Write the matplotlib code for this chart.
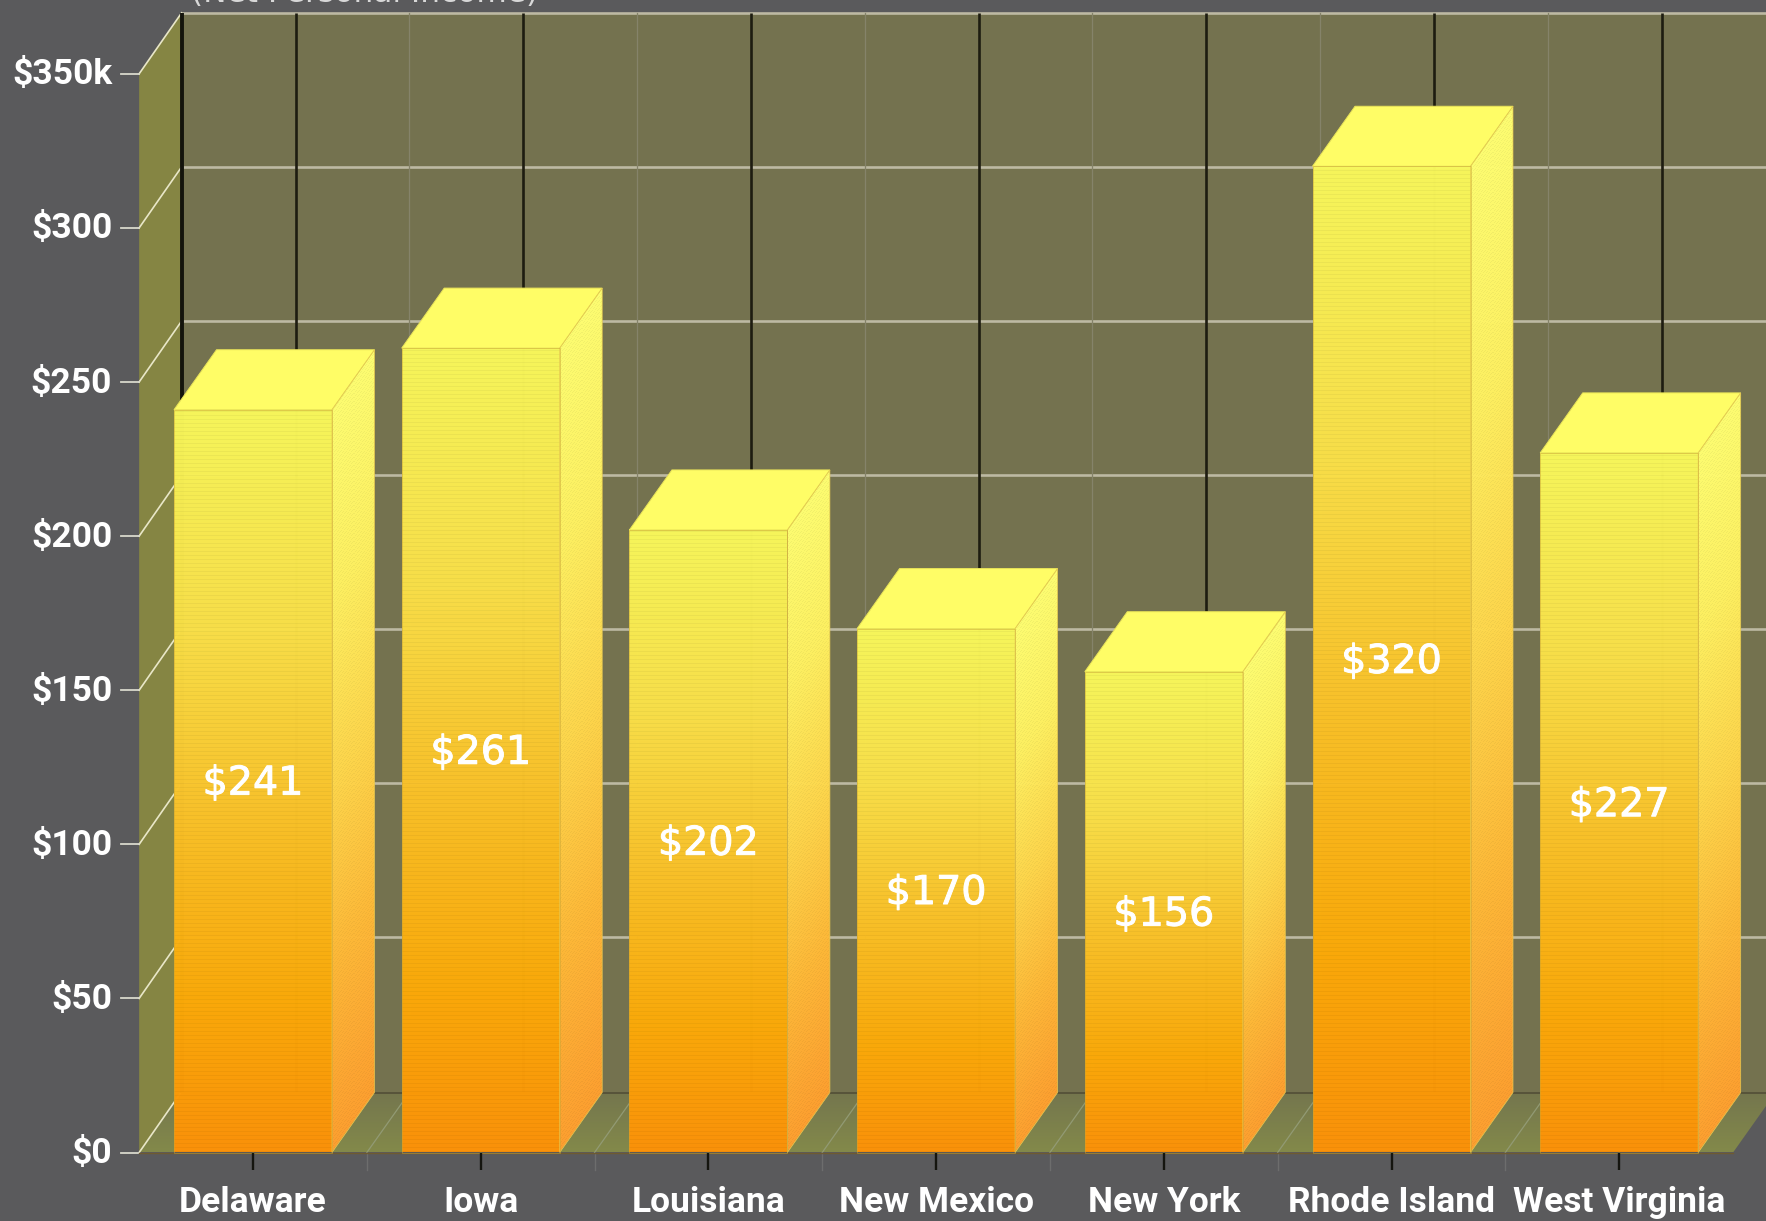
import numpy as np
import matplotlib
matplotlib.use("Agg")
import matplotlib.pyplot as plt
import matplotlib.patheffects as pe
from matplotlib.colors import LinearSegmentedColormap
from matplotlib.patches import Polygon

# Net personal income by state
states = ["Delaware", "Iowa", "Louisiana", "New Mexico", "New York", "Rhode Island", "West Virginia"]
income = [241, 261, 202, 170, 156, 320, 227]
y_ticks = [0, 50, 100, 150, 200, 250, 300, 350]
y_tick_labels = ["$0", "$50", "$100", "$150", "$200", "$250", "$300", "$350k"]
chart_title = "(Net Personal Income)"

W, H = 1766, 1221
PX_X = 227.7      # pixels per category
PX_Y = 3.082      # pixels per income unit
ORIGIN_X, ORIGIN_Y = 253.0, 1152.5
DX = 42.5 / PX_X  # extrusion of the 3D box, in data units
DY = 60.0 / PX_Y
GRID_DY = 61.0 / PX_Y
HALF = 79.0 / PX_X
ALPHA = 0.985

BG = "#5a5a5c"
WALL = "#74724f"
SIDE_WALL = "#858543"
GRID = "#bdb9a3"
DIAG = "#e9e7c8"
LABEL_FONT = ["Liberation Sans Narrow", "Roboto", "DejaVu Sans"]

front_cmap = LinearSegmentedColormap.from_list("front", [
    (0.0, "#fd9208"), (0.2, "#fcaa08"), (0.47, "#fac42c"), (0.7, "#fae048"), (1.0, "#f8f85c")])
side_cmap = LinearSegmentedColormap.from_list("side", [
    (0.0, "#ffa030"), (0.25, "#ffba38"), (0.5, "#ffd84c"), (0.75, "#fff262"), (1.0, "#ffff72")])
floor_cmap = LinearSegmentedColormap.from_list("floor", ["#83894a", "#74764e"])

fig = plt.figure(figsize=(W / 100, H / 100), dpi=100, facecolor=BG)
ax = fig.add_axes([0, 0, 1, 1])
ax.set_axis_off()
xlim = (-ORIGIN_X / PX_X, (W - ORIGIN_X) / PX_X)
ylim = (-(H - ORIGIN_Y) / PX_Y, ORIGIN_Y / PX_Y)

n = len(states)
left, right = -0.5, n - 0.5
top = y_ticks[-1]

# Back wall, side wall and floor
ax.add_patch(Polygon([(left + DX, DY), (xlim[1] + 1, DY), (xlim[1] + 1, top + GRID_DY), (left + DX, top + GRID_DY)],
                     fc=WALL, ec="none", zorder=1))
ax.add_patch(Polygon([(left, 0), (left + DX, DY), (left + DX, top + GRID_DY), (left, top)],
                     fc=SIDE_WALL, ec="none", zorder=1))
floor_poly = Polygon([(left, 0), (right, 0), (right + DX, DY), (left + DX, DY)],
                     transform=ax.transData, fc="none", ec="none")
ax.add_patch(floor_poly)
floor_img = ax.imshow(np.linspace(0, 1, 64)[:, None], cmap=floor_cmap, origin="lower", aspect="auto",
                      extent=(left, right + DX, 0, DY), zorder=1)
floor_img.set_clip_path(floor_poly)

# Horizontal grid lines with their diagonals across the side wall
for v, tick_label in zip(y_ticks, y_tick_labels):
    if v > 0:
        ax.plot([left + DX, xlim[1] + 1], [v + GRID_DY, v + GRID_DY], color=GRID, lw=1.9, zorder=2,
                solid_capstyle="butt")
    ax.plot([left, left + DX], [v, v + GRID_DY], color=DIAG, lw=1.2, zorder=2)
    ax.plot([left - 18 / PX_X, left], [v, v], color="#d9d9cc", lw=1.3, zorder=2)
    ax.text(left - 27 / PX_X, v - 1 / PX_Y, tick_label, color="white", ha="right", va="center",
            family=LABEL_FONT, fontweight="bold", fontsize=25.5, zorder=6)

# Vertical grid lines on the back wall, category centres and boundaries
ax.plot([left + DX, left + DX], [DY, top + GRID_DY], color="#14140c", lw=2.8, zorder=2.1, solid_capstyle="butt")
for i in range(n):
    ax.plot([i + DX, i + DX], [DY, top + GRID_DY], color="#1d1c10", lw=1.9, zorder=2.1, solid_capstyle="butt")
    ax.plot([i, i + DX], [0, DY], color="#6f6c3c", lw=0.9, zorder=2.1)
    ax.plot([i, i], [0, -17 / PX_Y], color="#15150f", lw=1.7, zorder=5, solid_capstyle="butt")
    if i < n - 1:
        ax.plot([i + 0.5 + DX, i + 0.5 + DX], [DY, top + GRID_DY], color="#85836a", lw=0.9, zorder=2.05)
        ax.plot([i + 0.5, i + 0.5 + DX], [0, DY], color="#929a74", lw=0.9, zorder=2.05)
        ax.plot([i + 0.5, i + 0.5], [0, -17 / PX_Y], color="#6d6d6d", lw=1.0, zorder=2.05)
ax.plot([left + DX, xlim[1] + 1], [DY, DY], color="#57543a", lw=1.4, zorder=2.1)
ax.plot([left, right], [0, 0], color="#6f5a30", lw=1.0, zorder=2.1)


def striped(values, period_index):
    """Darken every fourth pixel row of an RGBA ramp to give the banded bar finish."""
    rgba = values.copy()
    rgba[..., :3] = rgba[..., :3] * np.where(period_index % 4 == 0, 0.96, 1.0)[..., None]
    rgba[..., 3] = ALPHA
    return rgba


for i, v in enumerate(income):
    z = 3 + i * 0.01
    x0, x1 = i - HALF, i + HALF

    # Front face
    rows = int(round(v * PX_Y))
    t = ((np.arange(rows) + 0.5) / rows)[:, None]
    front = striped(front_cmap(t), np.arange(rows)[:, None])
    ax.imshow(front, origin="lower", aspect="auto", extent=(x0, x1, 0, v), zorder=z, interpolation="nearest")

    # Side face: the colour ramp and bands follow the receding edge
    sw = int(round(DX * PX_X))
    sh = int(round((v + DY) * PX_Y))
    xs, ys = np.meshgrid(np.arange(sw) + 0.5, np.arange(sh) + 0.5)
    along = ys - xs * (DY * PX_Y) / (DX * PX_X)
    side = striped(side_cmap(np.clip(along / rows, 0, 1)), np.floor(along).astype(int))
    side_poly = Polygon([(x1, 0), (x1 + DX, DY), (x1 + DX, v + DY), (x1, v)],
                        transform=ax.transData, fc="none", ec="#e6c850", lw=0.5, zorder=z + 0.002)
    ax.add_patch(side_poly)
    img = ax.imshow(side, origin="lower", aspect="auto", extent=(x1, x1 + DX, 0, v + DY), zorder=z,
                    interpolation="nearest")
    img.set_clip_path(side_poly)

    # Top face and front outline
    ax.add_patch(Polygon([(x0, v), (x1, v), (x1 + DX, v + DY), (x0 + DX, v + DY)],
                         fc="#fffd66", ec="#e9e358", lw=0.7, zorder=z + 0.001))
    ax.add_patch(Polygon([(x0, 0), (x1, 0), (x1, v), (x0, v)], fc="none", ec="#c9a435", lw=0.7,
                         alpha=0.5, zorder=z + 0.002))

    ax.text(i, v / 2 - 2.5 / PX_Y, f"${v}", color="white", ha="center", va="center", fontsize=28.5,
            family="DejaVu Sans", zorder=6,
            path_effects=[pe.withStroke(linewidth=0.7, foreground="white")])
    ax.text(i, -50 / PX_Y, states[i], color="white", ha="center", va="center", family=LABEL_FONT,
            fontweight="bold", fontsize=25.5, zorder=6)

# Chart title, running off the top of the canvas
ax.text(left + DX + 9 / PX_X, ylim[1] - 1.5 / PX_Y, chart_title, color="#d8d8d8", ha="left", va="baseline",
        family="DejaVu Sans", fontsize=22.5, zorder=6, clip_on=True)

ax.set_xlim(*xlim)
ax.set_ylim(*ylim)
fig.savefig("out.png", dpi=100, facecolor=BG)
